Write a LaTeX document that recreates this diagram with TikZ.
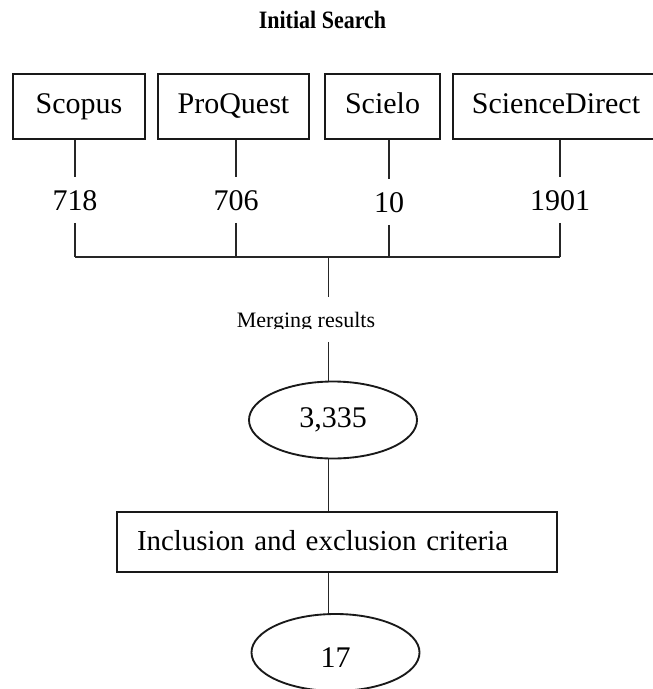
\documentclass[tikz,border=0pt]{standalone}
\usepackage{fontspec}
\usepackage{graphicx}
\setmainfont{Liberation Serif}
\usetikzlibrary{shapes.geometric}
\begin{document}
\begin{tikzpicture}[x=0.75pt,y=-0.75pt,
  srcbox/.style={draw=black!90, line width=1.4pt, inner sep=0pt,
    minimum height=65*0.75pt, text height=15.75pt, text depth=5.25pt,
    font=\fontsize{22.5pt}{26pt}\selectfont},
  numlabel/.style={anchor=base, inner xsep=2pt, inner ysep=9.5pt,
    text height=15pt, text depth=0pt,
    font=\fontsize{22.5pt}{26pt}\selectfont},
  oval/.style={draw=black!90, line width=1.4pt, ellipse, inner sep=0pt,
    minimum width=168*0.75pt, minimum height=77*0.75pt,
    font=\fontsize{22.5pt}{26pt}\selectfont},
  critbox/.style={draw=black!90, line width=1.4pt, inner xsep=15pt, inner ysep=0pt,
    text width=300pt, align=left, minimum height=45pt,
    text height=15.75pt, text depth=3.75pt,
    font=\fontsize{21.7pt}{26pt}\selectfont},
  conn/.style={draw=black!85, line width=1.1pt}
]
\useasboundingbox (0,0) rectangle (653,689);

% title
\node[anchor=base, inner sep=0pt, font=\fontsize{18.75pt}{22pt}\selectfont\bfseries] (title) at (322.5,28) {\scalebox{0.88}[1]{Initial Search}};

% source boxes
\node[srcbox, minimum width=132*0.75pt] (s1) at (79,106.5) {Scopus};
\node[srcbox, minimum width=151*0.75pt] (s2) at (233.5,106.5) {ProQuest};
\node[srcbox, minimum width=115*0.75pt] (s3) at (382.5,106.5) {Scielo};
\node[srcbox, minimum width=206*0.75pt] (s4) at (556,106.5) {ScienceDirect};

% counts
\node[numlabel] (n1) at (75,210) {718};
\node[numlabel] (n2) at (236,210) {706};
\node[numlabel] (n3) at (389,212) {10};
\node[numlabel] (n4) at (560,210) {1901};

\coordinate (bar) at (328.5,257);

% merging label (clipped at the baseline, as in the reference)
\begin{scope}
  \clip (200,250) rectangle (450,328);
  \node[anchor=base, inner xsep=0pt, inner ysep=11pt, text height=11pt, text depth=0pt,
        font=\fontsize{16.5pt}{20pt}\selectfont] (merge) at (306,327) {Merging results};
\end{scope}

% results
\node[oval] (e1) at (333,420) {3,335};
\node[critbox] (crit) at (337,542) {Inclusion and exclusion criteria};
\node[oval, text height=15pt, text depth=0pt] (e2) at (335.5,652.5) {\raisebox{-3.4pt}{17}};

% connectors
\foreach \s/\n in {s1/n1, s2/n2, s3/n3, s4/n4}{
  \draw[conn] (\n |- \s.south) -- (\n.north);
  \draw[conn] (\n.south) -- (\n |- bar);
}
\draw[conn] (n1 |- bar) -- (n4 |- bar);
\draw[conn] (bar) -- (bar |- merge.north);
\draw[conn] (bar |- merge.south) -- (bar |- e1.north);
\draw[conn] (bar |- e1.south) -- (bar |- crit.north);
\draw[conn] (bar |- crit.south) -- (bar |- e2.north);
\end{tikzpicture}
\end{document}
